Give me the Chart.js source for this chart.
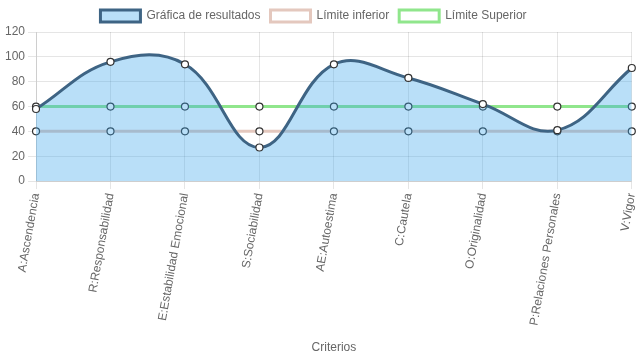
<!DOCTYPE html>
<html>
<head>
<meta charset="utf-8">
<script src="https://cdn.jsdelivr.net/npm/chart.js@4"></script>
<style>
  html, body { margin: 0; padding: 0; background: #fff; }
  #wrap { width: 637px; height: 359px; position: relative; }
</style>
</head>
<body>
<div id="wrap"><canvas id="myChart"></canvas></div>
<script>
const criterios = [
    'A:Ascendencia', 'R:Responsabilidad', 'E:Estabilidad Emocional', 'S:Sociabilidad',
    'AE:Autoestima', 'C:Cautela', 'O:Originalidad', 'P:Relaciones Personales', 'V:Vigor'
];
const resultados = [58, 96, 94, 27, 94, 83, 62, 41, 91];
const limiteInferior = [40, 40, 40, 40, 40, 40, 40, 40, 40];
const limiteSuperior = [60, 60, 60, 60, 60, 60, 60, 60, 60];

Chart.defaults.font.family = "'Liberation Sans', Arial, sans-serif";
Chart.defaults.font.size = 12;
Chart.defaults.color = '#666';

// mueve la leyenda un poco a la izquierda
const moverLeyenda = {
    id: 'moverLeyenda',
    afterLayout(chart) {
        chart.legend.left -= 6;
        chart.legend.right -= 6;
    }
};

const ctx = document.getElementById('myChart').getContext('2d');
const myChart = new Chart(ctx, {
    type: 'line',
    data: {
        labels: criterios,
        datasets: [{
            label: 'Gráfica de resultados',
            data: resultados,
            fill: true,
            backgroundColor: 'rgba(54, 162, 235, 0.35)',
            borderColor: 'rgb(62, 100, 132)',
            borderWidth: 3,
            tension: 0.4,
            pointBackgroundColor: '#fff',
            pointBorderColor: '#333',
            pointBorderWidth: 1.2,
            pointRadius: 3.5
        }, {
            label: 'Límite inferior',
            data: limiteInferior,
            fill: false,
            backgroundColor: '#fff',
            borderColor: 'rgb(228, 200, 190)',
            borderWidth: 3,
            pointBackgroundColor: '#fff',
            pointBorderColor: '#333',
            pointBorderWidth: 1.2,
            pointRadius: 3.5
        }, {
            label: 'Límite Superior',
            data: limiteSuperior,
            fill: false,
            backgroundColor: '#fff',
            borderColor: 'rgb(144, 230, 140)',
            borderWidth: 3,
            pointBackgroundColor: '#fff',
            pointBorderColor: '#333',
            pointBorderWidth: 1.2,
            pointRadius: 3.5
        }]
    },
    options: {
        responsive: true,
        maintainAspectRatio: false,
        animation: false,
        layout: { padding: { left: 2 } },
        plugins: {
            legend: {
                position: 'top',
                labels: { boxWidth: 40, boxHeight: 12 }
            },
            tooltip: { enabled: false }
        },
        scales: {
            x: {
                ticks: { minRotation: 80, maxRotation: 80, autoSkip: false },
                title: { display: true, text: 'Criterios', padding: { top: 11, bottom: 4 } },
                afterFit: function(scale) { scale.paddingRight = 4; }
            },
            y: {
                beginAtZero: true,
                max: 120,
                ticks: { stepSize: 20 }
            }
        }
    },
    plugins: [moverLeyenda]
});
</script>
</body>
</html>
